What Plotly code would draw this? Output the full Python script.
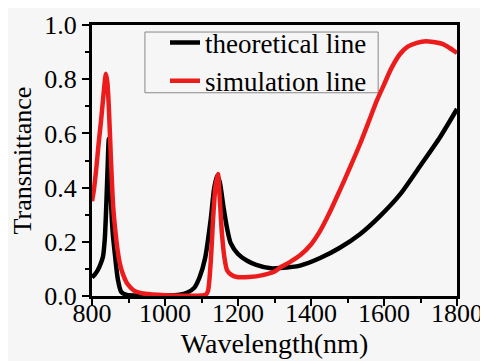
import plotly.graph_objects as go

# Theoretical line (black)
theory_x = [800, 808, 816, 824, 830, 835, 839, 843, 846, 849, 852, 857, 863, 871, 880, 895,
            920, 1000, 1040, 1060, 1080, 1095, 1110, 1125, 1135, 1143, 1150, 1160, 1170, 1180,
            1200, 1225, 1250, 1290, 1315, 1370, 1425, 1479, 1534, 1589, 1644, 1699, 1753, 1800]
theory_y = [0.068, 0.08, 0.096, 0.12, 0.145, 0.21, 0.33, 0.48, 0.58, 0.50, 0.35, 0.23, 0.15,
            0.06, 0.015, 0.004, 0.002, 0.002, 0.005, 0.012, 0.03, 0.07, 0.14, 0.28, 0.40, 0.445,
            0.42, 0.33, 0.25, 0.195, 0.155, 0.13, 0.115, 0.102, 0.103, 0.112, 0.14, 0.178, 0.228,
            0.295, 0.375, 0.48, 0.585, 0.69]

# Simulation line (red)
sim_x = [800, 805, 811, 818, 825, 832, 838, 842, 846, 852, 858, 864, 870, 877, 885, 897,
         915, 945, 1000, 1100, 1112, 1118, 1125, 1132, 1138, 1145, 1150, 1156, 1163, 1170, 1180,
         1197, 1230, 1268, 1300, 1315, 1342, 1370, 1400, 1425, 1450, 1479, 1507, 1534, 1560,
         1580, 1600, 1620, 1644, 1665, 1690, 1715, 1735, 1760, 1780, 1800]
sim_y = [0.35, 0.39, 0.46, 0.56, 0.65, 0.75, 0.82, 0.79, 0.70, 0.50, 0.33, 0.24, 0.17, 0.115,
         0.08, 0.045, 0.02, 0.008, 0.003, 0.002, 0.005, 0.02, 0.12, 0.29, 0.40, 0.45, 0.36,
         0.23, 0.14, 0.095, 0.08, 0.07, 0.07, 0.077, 0.09, 0.105, 0.125, 0.15, 0.19, 0.24, 0.305,
         0.39, 0.475, 0.56, 0.65, 0.72, 0.78, 0.84, 0.893, 0.92, 0.934, 0.94, 0.937, 0.93, 0.915,
         0.897]

FONT = "Liberation Serif"

fig = go.Figure()
fig.add_trace(go.Scatter(x=theory_x, y=theory_y, mode="lines", name="theoretical line",
                         line=dict(color="#000000", width=4.5, shape="spline", smoothing=0.7)))
fig.add_trace(go.Scatter(x=sim_x, y=sim_y, mode="lines", name="simulation line",
                         line=dict(color="#ec1c1c", width=4.5, shape="spline", smoothing=0.7)))

axis_common = dict(showgrid=False, zeroline=False, showline=True, linecolor="black",
                   linewidth=3, mirror=True, ticks="outside", ticklen=7, tickwidth=2,
                   tickcolor="black", automargin=False,
                   tickfont=dict(family=FONT, size=26, color="black"))

fig.update_xaxes(range=[800, 1800], dtick=200, tick0=800, ticklabelstandoff=-15,
                 minor=dict(dtick=100, ticks="outside", ticklen=4, tickwidth=2, tickcolor="black"),
                 title=dict(text="Wavelength(nm)", font=dict(family=FONT, size=28, color="black"),
                            standoff=2),
                 **axis_common)
fig.update_yaxes(range=[0, 1], dtick=0.2, tick0=0, tickformat=".1f",
                 minor=dict(dtick=0.1, ticks="outside", ticklen=4, tickwidth=2, tickcolor="black"),
                 title=dict(text="Transmittance", font=dict(family=FONT, size=26, color="black"),
                            standoff=9),
                 **axis_common)

# legend frame
fig.add_shape(type="rect", xref="paper", yref="paper", x0=0.145, x1=0.784, y0=0.75, y1=0.974,
              line=dict(color="#888888", width=1), fillcolor="rgba(0,0,0,0)", layer="below")

fig.update_layout(
    width=480, height=353,
    margin=dict(l=84, r=31, t=16, b=65),
    paper_bgcolor="#f6f6f6", plot_bgcolor="#f6f6f6",
    font=dict(family=FONT, color="black"),
    legend=dict(x=0.2, y=1.02, xanchor="left", yanchor="top",
                bgcolor="rgba(0,0,0,0)", borderwidth=0,
                font=dict(family=FONT, size=27, color="black"),
                tracegroupgap=0, itemwidth=30),
    showlegend=True,
)

fig.write_html("out.html")
